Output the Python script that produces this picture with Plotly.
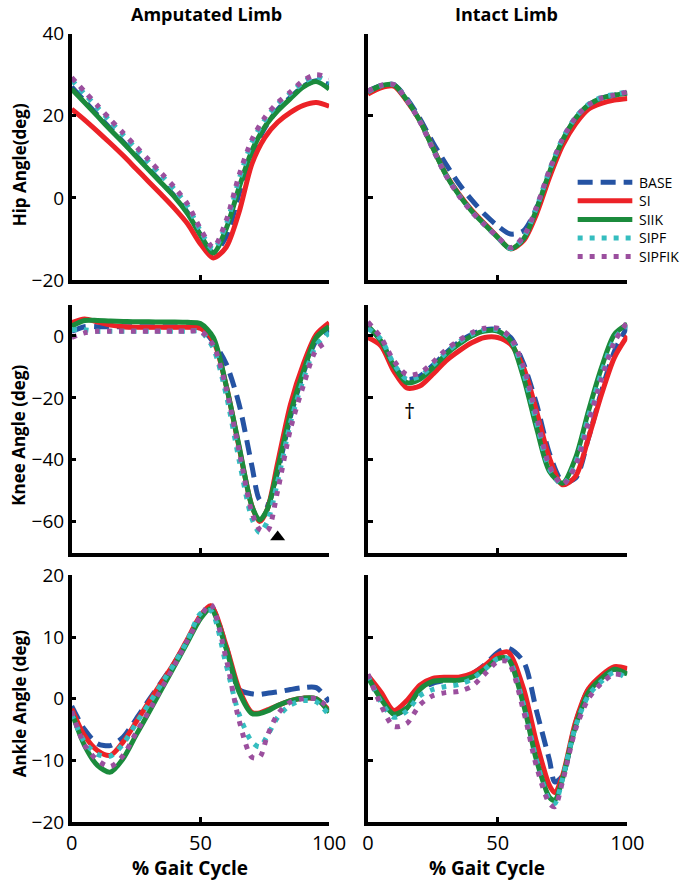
import plotly.graph_objects as go

# conditions
SERIES = ["BASE", "SI", "SIIK", "SIPF", "SIPFIK"]
COLORS = ["#2553a3", "#ec2227", "#1b8b3c", "#35bdbf", "#9b4f9e"]
DASHES = ["15px,8px", "solid", "solid", "5px,7px", "5px,7px"]

# % gait cycle sample points per panel
HIP_X = [0, 5, 10, 15, 20, 25, 30, 35, 40, 45, 50, 55, 60, 65, 70, 75, 80, 85, 90, 95, 100]
KNEE_AMP_X = [0, 5, 10, 15, 20, 25, 30, 35, 40, 45, 50, 55, 60, 65, 70, 73, 76, 80, 85, 90, 95, 100]
KNEE_INT_X = [0, 5, 10, 15, 20, 25, 30, 35, 40, 45, 50, 55, 60, 65, 70, 75, 80, 85, 90, 95, 100]
ANK_AMP_X = [0, 5, 10, 15, 20, 25, 30, 35, 40, 45, 50, 54, 60, 65, 70, 73, 76, 80, 85, 90, 95, 100]
ANK_INT_X = [0, 5, 10, 15, 20, 25, 30, 35, 40, 45, 50, 54, 60, 65, 70, 72, 75, 80, 85, 90, 95, 100]

# hip angle, amputated limb
HIP_AMP_BASE = [27.0, 23.6, 20.2, 16.9, 13.6, 10.3, 7.0, 3.7, 0.4, -3.6, -9.0, -13.3, -9.5, 1.0, 10.5, 17.0, 21.5, 24.5, 27.2, 28.5, 27.5]
HIP_AMP_SI = [21.6, 19.0, 16.2, 13.3, 10.3, 7.1, 3.9, 0.7, -2.6, -6.3, -11.2, -14.6, -12.0, -3.5, 8.3, 14.7, 18.4, 20.8, 22.5, 23.2, 22.3]
HIP_AMP_SIIK = [26.5, 23.2, 19.9, 16.6, 13.4, 10.1, 6.8, 3.5, 0.2, -3.8, -9.0, -13.4, -7.5, 2.5, 11.5, 17.3, 21.2, 24.2, 27.0, 28.3, 26.5]
HIP_AMP_SIPF = [28.7, 25.3, 22.0, 18.6, 15.3, 12.0, 8.7, 5.4, 2.0, -2.0, -8.0, -12.5, -6.5, 4.5, 13.5, 19.0, 22.8, 25.5, 28.2, 29.5, 28.0]
HIP_AMP_SIPFIK = [29.3, 25.9, 22.5, 19.1, 15.8, 12.5, 9.2, 5.9, 2.5, -1.5, -7.5, -12.0, -5.5, 5.5, 14.2, 19.6, 23.2, 25.8, 28.6, 30.0, 29.2]

# hip angle, intact limb
HIP_INT_BASE = [26.0, 27.3, 27.5, 24.2, 19.3, 13.5, 8.3, 3.5, -0.5, -4.0, -6.8, -8.8, -8.0, -2.5, 6.0, 13.5, 19.3, 22.5, 24.3, 25.0, 25.5]
HIP_INT_SI = [25.3, 26.8, 27.2, 23.6, 18.8, 12.3, 5.8, 1.0, -3.0, -6.3, -9.5, -12.4, -10.4, -3.9, 5.0, 12.7, 18.0, 21.6, 23.0, 23.8, 24.2]
HIP_INT_SIIK = [25.8, 27.3, 27.5, 23.8, 18.8, 12.2, 5.7, 0.8, -3.2, -6.5, -9.6, -12.4, -10.0, -2.8, 6.3, 14.0, 19.3, 22.6, 24.3, 25.0, 25.5]
HIP_INT_SIPF = [25.8, 27.3, 27.6, 23.9, 18.7, 12.0, 5.6, 0.7, -3.3, -6.6, -9.6, -12.3, -9.6, -2.3, 6.8, 14.4, 19.6, 22.8, 24.5, 25.2, 25.8]
HIP_INT_SIPFIK = [26.0, 27.4, 27.6, 23.8, 18.6, 11.9, 5.5, 0.6, -3.4, -6.6, -9.5, -12.1, -9.4, -2.2, 6.8, 14.3, 19.5, 22.6, 24.3, 25.0, 25.8]

# knee angle, amputated limb
KNEE_AMP_BASE = [1.5, 3.0, 3.0, 3.0, 3.0, 3.0, 3.0, 3.0, 3.0, 3.0, 2.5, -2.0, -9.0, -22.0, -42.0, -53.0, -54.5, -44.0, -26.0, -12.0, -1.5, 2.0]
KNEE_AMP_SI = [4.3, 5.5, 4.5, 3.5, 3.0, 2.8, 2.8, 2.8, 2.8, 2.8, 2.5, -1.5, -16.0, -36.0, -55.0, -60.0, -56.0, -41.0, -22.0, -9.0, 0.5, 4.3]
KNEE_AMP_SIIK = [3.2, 5.0, 5.0, 4.8, 4.7, 4.6, 4.6, 4.5, 4.5, 4.4, 4.0, -0.5, -16.0, -35.5, -55.0, -59.5, -56.0, -43.0, -25.0, -11.5, -0.5, 3.0]
KNEE_AMP_SIPF = [2.0, 2.0, 1.5, 1.5, 1.5, 1.5, 1.5, 1.5, 1.5, 1.5, 1.5, -4.0, -19.0, -40.0, -59.0, -63.5, -60.0, -47.0, -28.0, -14.0, -3.0, 1.0]
KNEE_AMP_SIPFIK = [-0.5, 1.0, 1.5, 1.5, 1.5, 1.5, 1.5, 1.5, 1.5, 1.5, 1.5, -3.0, -17.0, -37.0, -57.0, -62.5, -63.0, -50.0, -30.0, -16.0, -4.5, -1.5]

# knee angle, intact limb
KNEE_INT_BASE = [3.0, -1.5, -9.5, -14.0, -13.0, -9.5, -5.5, -2.0, 0.5, 2.0, 2.0, -0.5, -9.0, -22.0, -38.0, -47.0, -46.0, -33.0, -18.0, -5.0, 3.0]
KNEE_INT_SI = [-0.5, -3.2, -11.4, -16.8, -16.2, -12.4, -8.1, -4.9, -2.2, -0.5, -0.5, -2.7, -10.3, -24.3, -39.5, -48.1, -45.4, -33.0, -19.0, -7.0, 0.0]
KNEE_INT_SIIK = [3.2, -1.6, -9.7, -15.1, -14.0, -10.3, -6.0, -2.7, 0.0, 1.6, 1.6, -1.6, -13.5, -29.7, -43.8, -47.6, -39.5, -24.3, -10.3, 0.5, 3.8]
KNEE_INT_SIPF = [2.5, -1.0, -9.0, -14.0, -13.0, -9.5, -5.5, -2.0, 0.5, 2.0, 2.0, -1.0, -12.0, -28.0, -43.0, -48.0, -41.0, -26.0, -12.0, -1.0, 3.5]
KNEE_INT_SIPFIK = [4.5, -0.5, -8.0, -12.5, -12.0, -8.5, -4.5, -1.5, 1.0, 2.5, 2.5, -0.5, -10.0, -26.0, -42.0, -48.0, -42.0, -28.0, -14.0, -2.0, 4.5]

# ankle angle, amputated limb
ANK_AMP_BASE = [-1.2, -5.0, -7.3, -7.6, -6.2, -3.3, -0.2, 2.8, 5.9, 9.5, 13.2, 15.0, 8.5, 1.5, 0.8, 0.7, 0.9, 1.1, 1.5, 1.8, 1.8, -0.5]
ANK_AMP_SI = [-1.6, -6.0, -8.4, -9.2, -7.0, -3.8, -0.5, 2.7, 5.9, 9.7, 13.5, 15.1, 8.6, 1.6, -2.2, -2.3, -1.8, -1.1, -0.3, 0.1, 0.0, -1.9]
ANK_AMP_SIIK = [-2.2, -7.6, -10.8, -11.9, -9.7, -5.9, -2.2, 1.6, 5.4, 9.2, 13.0, 14.6, 8.1, 1.1, -2.4, -2.4, -2.0, -1.1, -0.3, 0.1, 0.0, -2.2]
ANK_AMP_SIPF = [-2.5, -7.0, -9.0, -9.3, -7.3, -4.0, -0.8, 2.5, 5.8, 9.5, 13.8, 14.3, 5.5, -2.5, -7.0, -7.8, -6.0, -3.0, -1.0, -0.3, -0.5, -2.7]
ANK_AMP_SIPFIK = [-2.0, -7.5, -10.0, -11.0, -9.2, -5.5, -2.0, 1.8, 5.5, 9.5, 13.3, 15.3, 6.5, -3.5, -9.5, -9.5, -6.0, -2.5, -0.5, 0.0, 0.0, -1.5]

# ankle angle, intact limb
ANK_INT_BASE = [3.5, 0.5, -2.5, -1.5, 1.5, 2.5, 3.0, 3.3, 4.0, 5.5, 7.5, 8.2, 6.0, -2.0, -10.0, -13.5, -12.5, -4.0, 1.5, 3.5, 4.8, 4.0]
ANK_INT_SI = [3.8, 1.1, -1.9, -0.3, 2.2, 3.3, 3.5, 3.5, 4.1, 5.4, 7.1, 7.6, 1.6, -7.1, -14.1, -15.2, -12.5, -3.8, 1.6, 3.8, 5.2, 4.9]
ANK_INT_SIIK = [3.5, 0.0, -2.5, -1.5, 1.5, 2.8, 3.0, 3.0, 3.5, 4.8, 6.5, 6.5, -1.0, -10.0, -16.0, -16.5, -13.0, -4.5, 1.0, 3.3, 4.8, 4.0]
ANK_INT_SIPF = [3.8, -0.5, -3.0, -2.0, 0.5, 1.5, 2.0, 2.3, 3.2, 4.8, 6.5, 6.5, -1.0, -10.0, -16.5, -17.0, -13.0, -4.5, 0.5, 2.8, 4.3, 3.2]
ANK_INT_SIPFIK = [4.0, -1.0, -4.5, -4.0, -1.0, 0.5, 1.0, 1.2, 2.0, 4.0, 6.0, 6.0, -2.0, -11.0, -17.0, -17.5, -13.5, -5.0, 0.0, 2.5, 4.0, 3.5]

# significance markers
TRIANGLE_X, TRIANGLE_Y = [80], [-65]
DAGGER_X, DAGGER_Y = 16, -24

COL_TITLES = ["Amputated Limb", "Intact Limb"]
ROW_TITLES = ["Hip Angle(deg)", "Knee Angle (deg)", "Ankle Angle (deg)"]
Y_RANGES = [[-20, 40], [-70, 10], [-20, 20]]
Y_TICKS = [[-20, 0, 20, 40], [-60, -40, -20, 0], [-20, -10, 0, 10, 20]]
X_TICKS = [0, 50, 100]

panels = [
    (HIP_X, [HIP_AMP_BASE, HIP_AMP_SI, HIP_AMP_SIIK, HIP_AMP_SIPF, HIP_AMP_SIPFIK]),
    (HIP_X, [HIP_INT_BASE, HIP_INT_SI, HIP_INT_SIIK, HIP_INT_SIPF, HIP_INT_SIPFIK]),
    (KNEE_AMP_X, [KNEE_AMP_BASE, KNEE_AMP_SI, KNEE_AMP_SIIK, KNEE_AMP_SIPF, KNEE_AMP_SIPFIK]),
    (KNEE_INT_X, [KNEE_INT_BASE, KNEE_INT_SI, KNEE_INT_SIIK, KNEE_INT_SIPF, KNEE_INT_SIPFIK]),
    (ANK_AMP_X, [ANK_AMP_BASE, ANK_AMP_SI, ANK_AMP_SIIK, ANK_AMP_SIPF, ANK_AMP_SIPFIK]),
    (ANK_INT_X, [ANK_INT_BASE, ANK_INT_SI, ANK_INT_SIIK, ANK_INT_SIPF, ANK_INT_SIPFIK]),
]

W, H = 690, 884
FONT = "Open Sans, Lato, sans-serif"

# the plot area comes out a little shrunk and shifted, so map
# positions measured on the reference back into paper coordinates
SCALE, OFF_X, OFF_Y = 0.9725, 2.9, 12.4


def fx(p):
    return (p - OFF_X) / SCALE / W


def fy(p):
    return 1 - (p - OFF_Y) / SCALE / H


# panel boxes in reference pixels (left, right) and (top, bottom)
X_PIX = [(69, 328), (367, 628)]
Y_PIX = [(33, 280), (305, 553), (576, 823)]

fig = go.Figure()

for i, (xs, curves) in enumerate(panels):
    sfx = "" if i == 0 else str(i + 1)
    for name, ys, color, dash in zip(SERIES, curves, COLORS, DASHES):
        fig.add_trace(go.Scatter(
            x=xs, y=ys, xaxis="x" + sfx, yaxis="y" + sfx,
            mode="lines", name=name, showlegend=False,
            line=dict(color=color, width=5, dash=dash, shape="spline", smoothing=0.8),
        ))

fig.add_trace(go.Scatter(
    x=TRIANGLE_X, y=TRIANGLE_Y, xaxis="x3", yaxis="y3", mode="markers",
    marker=dict(symbol="triangle-up", size=13, color="black"),
    showlegend=False, cliponaxis=False,
))

layout = {}
for i in range(6):
    row, col = i // 2, i % 2
    sfx = "" if i == 0 else str(i + 1)
    xl, xr = X_PIX[col]
    yt, yb = Y_PIX[row]
    layout["xaxis" + sfx] = dict(
        domain=[fx(xl), fx(xr)], anchor="y" + sfx, range=[0, 100],
        tickvals=X_TICKS, showticklabels=(row == 2),
        ticks="inside", ticklen=5, tickwidth=3, tickcolor="black",
        showline=True, linewidth=3.5, linecolor="black",
        showgrid=False, zeroline=False,
        tickfont=dict(size=20, color="black", family=FONT),
    )
    layout["yaxis" + sfx] = dict(
        domain=[fy(yb), fy(yt)], anchor="x" + sfx, range=Y_RANGES[row],
        tickvals=Y_TICKS[row], showticklabels=(col == 0),
        ticks="inside", ticklen=5, tickwidth=3, tickcolor="black",
        showline=True, linewidth=3.5, linecolor="black",
        showgrid=False, zeroline=False,
        tickfont=dict(size=19, color="black", family=FONT),
    )

annotations = []
for col, title in enumerate(COL_TITLES):
    cx = [205, 506][col]
    annotations.append(dict(text="<b>%s</b>" % title, x=fx(cx), y=fy(13),
                            xref="paper", yref="paper", showarrow=False,
                            xanchor="center", yanchor="middle",
                            font=dict(size=18, color="black", family=FONT)))
    gx = [188, 487][col]
    annotations.append(dict(text="<b>% Gait Cycle</b>", x=fx(gx), y=fy(869),
                            xref="paper", yref="paper", showarrow=False,
                            xanchor="center", yanchor="middle",
                            font=dict(size=19, color="black", family=FONT)))
for row, title in enumerate(ROW_TITLES):
    cy = [165, 436, 705][row]
    annotations.append(dict(text="<b>%s</b>" % title, x=fx(16), y=fy(cy),
                            xref="paper", yref="paper", showarrow=False, textangle=-90,
                            xanchor="center", yanchor="middle",
                            font=dict(size=17, color="black", family=FONT)))
annotations.append(dict(text="†", x=DAGGER_X, y=DAGGER_Y, xref="x4", yref="y4",
                        showarrow=False, xanchor="center", yanchor="middle",
                        font=dict(size=22, color="black", family=FONT)))

# legend drawn as keys in the intact-limb hip panel
shapes = []
for k, (name, color, dash) in enumerate(zip(SERIES, COLORS, DASHES)):
    ly = fy(182 + k * 18.6)
    shapes.append(dict(type="line", xref="paper", yref="paper",
                       x0=fx(578), x1=fx(633), y0=ly, y1=ly,
                       line=dict(color=color, width=5, dash=dash)))
    annotations.append(dict(text=name, x=fx(639), y=ly, xref="paper", yref="paper",
                            showarrow=False, xanchor="left", yanchor="middle",
                            borderpad=0,
                            font=dict(size=14, color="black", family=FONT)))

fig.update_layout(
    width=W, height=H,
    margin=dict(l=0, r=0, t=0, b=0),
    plot_bgcolor="white", paper_bgcolor="white",
    annotations=annotations, shapes=shapes,
    showlegend=False,
    **layout,
)

fig.write_html(
    "out.html",
    config={"responsive": False, "displayModeBar": False},
    post_script=(
        "var gd=document.getElementById('{plot_id}');"
        "gd.style.position='absolute';gd.style.left='0px';gd.style.top='0px';"
        "document.body.style.margin='0';document.body.style.overflow='hidden';"
    ),
)
